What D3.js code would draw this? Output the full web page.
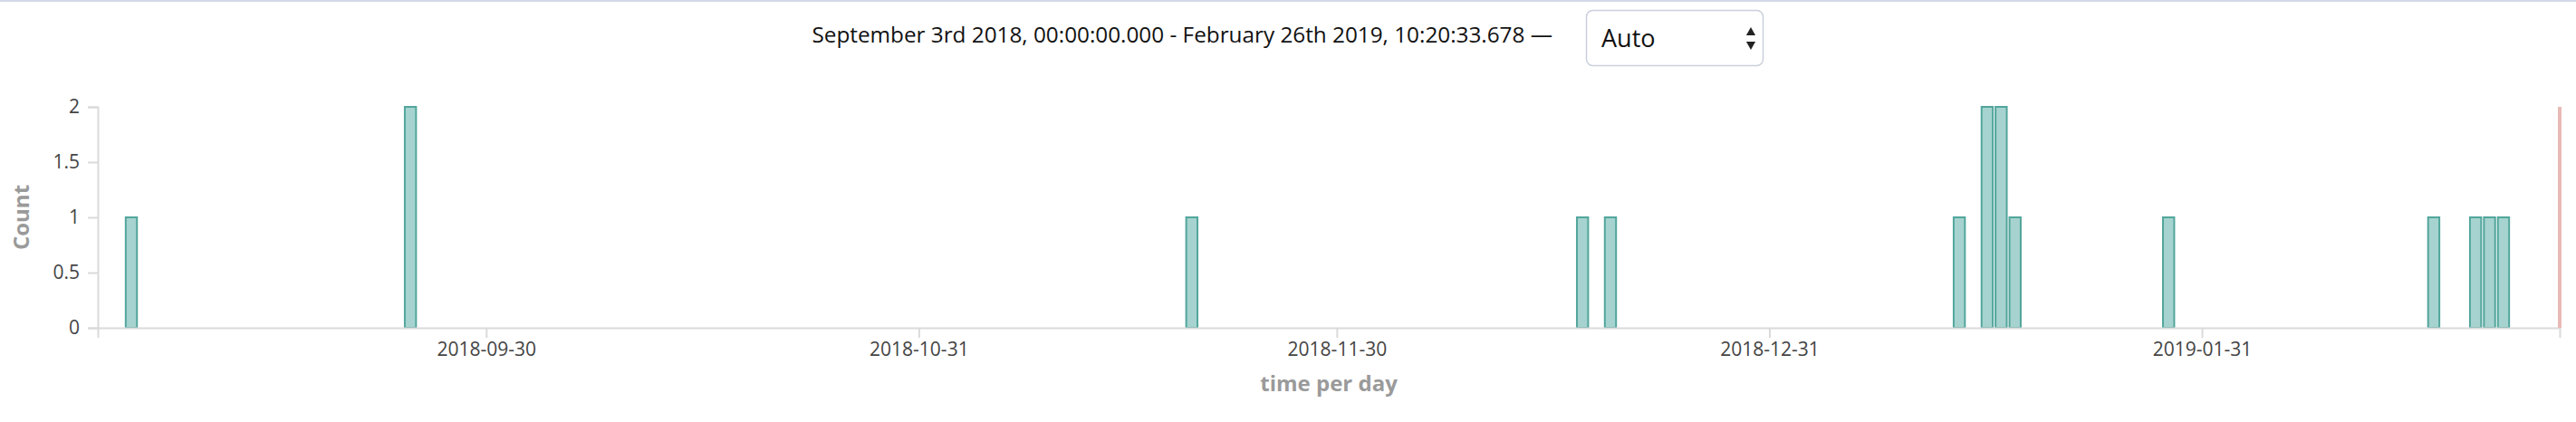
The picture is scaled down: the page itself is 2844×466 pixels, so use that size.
<!DOCTYPE html>
<html>
<head>
<meta charset="utf-8">
<script src="https://cdn.jsdelivr.net/npm/d3@7"></script>
<style>
  html, body { margin: 0; padding: 0; background: #fff; }
  svg { display: block; }
  text { font-family: "Open Sans", "Noto Sans", sans-serif; }
</style>
</head>
<body>
<svg id="chart" width="2844" height="466"></svg>
<script>
// ---- data (naive local time, America/New_York) ----
const rangeStart = "2018-09-03T00:00:00.000";
const rangeEnd   = "2019-02-26T10:20:33.678";
const bucketDays = ["2018-09-05","2018-09-25","2018-11-20","2018-12-18","2018-12-20",
                    "2019-01-14","2019-01-16","2019-01-17","2019-01-18","2019-01-29",
                    "2019-02-17","2019-02-20","2019-02-21","2019-02-22"];
const counts     = [1, 2, 1, 1, 1, 1, 2, 2, 1, 1, 1, 1, 1, 1];
// tick positions = UTC month starts shown in local time
const tickTimes  = ["2018-09-30T20:00","2018-10-31T20:00","2018-11-30T19:00","2018-12-31T19:00","2019-01-31T19:00"];
const tickLabels = ["2018-09-30","2018-10-31","2018-11-30","2018-12-31","2019-01-31"];
const yTicks     = [0, 0.5, 1, 1.5, 2];
const headerText = "September 3rd 2018, 00:00:00.000 - February 26th 2019, 10:20:33.678 \u2014";
const intervalText = "Auto";
const yTitle = "Count";
const xTitle = "time per day";

const parse = s => new Date(s + (s.length > 16 ? "Z" : ":00Z"));
const parseDay = s => new Date(s + "T00:00:00Z");

const svg = d3.select("#chart");
const W = 2844, H = 466;
const m = { left: 108, right: 2826, top: 118, bottom: 362 };

// top border
svg.append("rect").attr("x", 0).attr("y", 0).attr("width", W).attr("height", 2).attr("fill", "#d3dae6");

// header
svg.append("text").attr("x", 1714).attr("y", 47).attr("text-anchor", "end")
  .attr("font-size", 24.3).attr("fill", "#111").text(headerText);
const sel = svg.append("g").attr("transform", "translate(1751,11)");
sel.append("rect").attr("x", 0.5).attr("y", 0.5).attr("width", 195).attr("height", 61)
  .attr("rx", 7).attr("fill", "#fff").attr("stroke", "#c9d0dc").attr("stroke-width", 1.5);
sel.append("text").attr("x", 17).attr("y", 41).attr("font-size", 27).attr("fill", "#111").text(intervalText);
sel.append("path").attr("d", d3.symbol(d3.symbolTriangle, 45)()).attr("transform", "translate(182,25)").attr("fill", "#222");
sel.append("path").attr("d", d3.symbol(d3.symbolTriangle, 45)()).attr("transform", "translate(182,38) rotate(180)").attr("fill", "#222");

// scales
const x = d3.scaleUtc().domain([parse(rangeStart), parse(rangeEnd)]).range([m.left, m.right]);
const y = d3.scaleLinear().domain([0, 2]).range([m.bottom, m.top]);

// bars
const data = bucketDays.map((d, i) => ({ start: parseDay(d), end: d3.utcDay.offset(parseDay(d), 1), v: counts[i] }));
svg.append("g").selectAll("rect").data(data).join("rect")
  .attr("x", d => x(d.start))
  .attr("y", d => y(d.v))
  .attr("width", d => x(d.end) - x(d.start) - 3)
  .attr("height", d => y(0) - y(d.v))
  .attr("fill", "#a6d3cf").attr("stroke", "#52a69c").attr("stroke-width", 2);

// axes
const axisColor = "#dadada";
const xAxis = d3.axisBottom(x).tickValues(tickTimes.map(parse))
  .tickFormat((d, i) => tickLabels[i]).tickSize(11).tickPadding(5);
const gx = svg.append("g").attr("transform", `translate(0,${m.bottom})`).call(xAxis);
const yAxis = d3.axisLeft(y).tickValues(yTicks).tickFormat(d3.format("")).tickSize(11).tickPadding(9);
const gy = svg.append("g").attr("transform", `translate(${m.left},0)`).call(yAxis);
[gx, gy].forEach(g => {
  g.select(".domain").attr("stroke", axisColor).attr("stroke-width", 2);
  g.selectAll(".tick line").attr("stroke", axisColor).attr("stroke-width", 2);
  g.selectAll(".tick text").attr("font-size", 21).attr("fill", "#444").attr("font-family", "Open Sans");
});

// current-time marker
svg.append("line").attr("x1", x(parse(rangeEnd))).attr("x2", x(parse(rangeEnd)))
  .attr("y1", y(2)).attr("y2", y(0)).attr("stroke", "#e8b9b6").attr("stroke-width", 4);

// axis titles
svg.append("text").attr("x", (m.left + m.right) / 2).attr("y", 432).attr("text-anchor", "middle")
  .attr("font-size", 24).attr("font-weight", "bold").attr("fill", "#9a9a9a").text(xTitle);
svg.append("text").attr("transform", `translate(32,${(m.top + m.bottom) / 2}) rotate(-90)`)
  .attr("text-anchor", "middle").attr("font-size", 24).attr("font-weight", "bold").attr("fill", "#9a9a9a").text(yTitle);
</script>
</body>
</html>
